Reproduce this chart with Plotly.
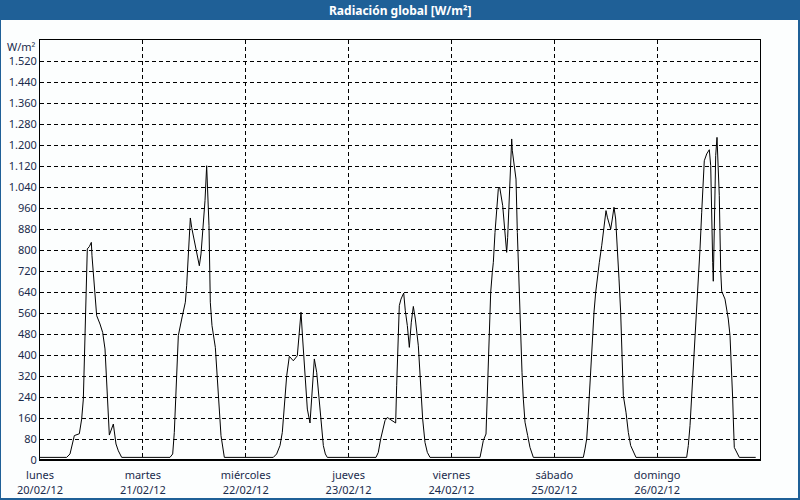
import plotly.graph_objects as go
import pandas as pd

# ---- data -------------------------------------------------------------
day_dates = ["2012-02-20", "2012-02-21", "2012-02-22", "2012-02-23",
             "2012-02-24", "2012-02-25", "2012-02-26"]
day_names = ["lunes", "martes", "miércoles", "jueves", "viernes", "sábado", "domingo"]
day_labels = ["20/02/12", "21/02/12", "22/02/12", "23/02/12",
              "24/02/12", "25/02/12", "26/02/12"]

# hour of day, W/m²
mon_hours = [0.0, 6.22, 7.0, 8.01, 9.18, 9.72, 10.11, 10.5, 10.73, 11.04, 11.51, 11.98,
             12.13, 12.6, 13.22, 14.0, 14.62, 15.17, 15.71, 16.18, 17.11, 17.73, 18.28, 19.06]
mon_values = [10, 10, 23, 93, 100, 156, 232, 461, 594, 804, 813, 829,
              778, 664, 550, 518, 486, 423, 245, 95, 137, 61, 35, 10]

tue_hours = [6.33, 6.96, 7.34, 7.66, 7.89, 8.28, 9.06, 9.91, 10.22, 10.61, 11.08, 11.39,
             12.17, 13.18, 13.57, 14.03, 14.5, 14.89, 15.12, 15.43, 15.74, 16.13, 16.91,
             17.38, 17.84, 18.23, 19.01]
tue_values = [10, 23, 105, 232, 334, 474, 537, 601, 664, 804, 922, 886,
              816, 740, 785, 880, 988, 1121, 1045, 893, 601, 512, 429,
              309, 182, 93, 10]

wed_hours = [6.44, 7.22, 8.0, 8.54, 9.01, 9.56, 10.18, 11.11, 12.04, 12.43, 12.9, 13.29,
             13.83, 14.38, 15.0, 15.47, 16.01, 16.56, 17.1, 17.64, 18.11, 18.58, 19.04]
wed_values = [10, 23, 55, 105, 207, 321, 395, 378, 397, 474, 563, 461,
              309, 194, 141, 251, 385, 334, 245, 131, 55, 23, 10]

thu_hours = [6.4, 6.94, 7.49, 7.96, 8.5, 9.04, 10.06, 10.99, 11.22, 11.53, 11.84, 12.23,
             12.86, 13.24, 13.71, 14.18, 14.64, 15.11, 15.58, 16.28, 16.82, 17.29, 17.83,
             18.38, 19.0]
thu_values = [10, 29, 80, 118, 150, 162, 150, 141, 283, 461, 588, 613,
              636, 569, 512, 429, 525, 585, 537, 435, 283, 156, 67,
              29, 10]

fri_hours = [6.67, 7.06, 7.44, 8.07, 8.38, 8.61, 8.84, 9.16, 9.54, 9.78, 10.17, 10.56,
             10.94, 11.26, 11.49, 11.96, 12.42, 12.89, 13.12, 13.36, 13.67, 13.82, 14.06,
             14.21, 14.6, 15.07, 15.38, 15.69, 15.84, 16.16, 16.47, 16.78, 17.17, 17.79,
             18.33, 19.11]
fri_values = [10, 42, 74, 99, 245, 410, 537, 639, 715, 753, 867, 969,
              1032, 1039, 1020, 969, 880, 791, 848, 956, 1070, 1172, 1223,
              1178, 1134, 1070, 867, 715, 588, 461, 334, 232, 144, 93,
              48, 10]

sat_hours = [6.78, 7.17, 7.56, 7.87, 8.18, 8.49, 8.88, 9.27, 9.66, 10.04, 10.51, 11.06,
             11.6, 12.07, 12.38, 12.77, 13.16, 13.54, 13.93, 14.32, 14.71, 15.1, 15.49,
             15.8, 16.11, 16.73, 17.28, 17.82, 18.44, 19.07]
sat_values = [10, 42, 80, 156, 258, 334, 486, 563, 639, 702, 753, 816,
              893, 950, 925, 905, 880, 918, 963, 918, 816, 690, 563,
              435, 245, 182, 105, 55, 29, 10]

sun_hours = [6.89, 7.27, 7.67, 7.9, 8.21, 8.44, 8.76, 9.0, 9.37, 9.6, 10.0, 10.4,
             10.77, 11.0, 11.56, 12.17, 12.5, 12.73, 12.96, 13.1, 13.34, 13.66, 13.97,
             14.2, 14.5, 14.83, 15.06, 15.83, 16.23, 16.6, 17.0, 17.23, 17.4, 17.63,
             17.77, 18.0, 19.17, 23.0]
sun_values = [10, 55, 131, 194, 283, 359, 461, 537, 613, 690, 804, 944,
              1058, 1140, 1166, 1182, 1121, 880, 753, 681, 855, 1160, 1229,
              1153, 1007, 721, 643, 613, 575, 537, 474, 397, 321, 232,
              156, 48, 10, 10]

y_tick_values = [0, 80, 160, 240, 320, 400, 480, 560, 640, 720, 800, 880, 960,
                 1040, 1120, 1200, 1280, 1360, 1440, 1520]

# ---- build series -----------------------------------------------------
all_hours = [mon_hours, tue_hours, wed_hours, thu_hours, fri_hours, sat_hours, sun_hours]
all_values = [mon_values, tue_values, wed_values, thu_values, fri_values, sat_values, sun_values]

xs, ys = [], []
for d, hrs, vals in zip(day_dates, all_hours, all_values):
    base = pd.Timestamp(d)
    xs += [base + pd.Timedelta(hours=h) for h in hrs]
    ys += vals

BLUE = "#1f6097"
TXT = "#1a2b4c"
FONT = "Noto Sans"

fig = go.Figure()
fig.add_trace(go.Scatter(x=xs, y=ys, mode="lines",
                         line=dict(color="black", width=1), showlegend=False,
                         hoverinfo="skip"))


def px_x(px):
    return (px - 40) / 720


def px_y(py):
    return (460 - py) / 420


shapes = [
    # title bar
    dict(type="rect", xref="paper", yref="paper", x0=px_x(0), x1=px_x(800),
         y0=px_y(20), y1=px_y(0), fillcolor=BLUE, line=dict(width=0), layer="above"),
    # frame
    dict(type="rect", xref="paper", yref="paper", x0=px_x(0), x1=px_x(1),
         y0=px_y(500), y1=px_y(0), fillcolor=BLUE, line=dict(width=0), layer="above"),
    dict(type="rect", xref="paper", yref="paper", x0=px_x(798), x1=px_x(800),
         y0=px_y(500), y1=px_y(0), fillcolor=BLUE, line=dict(width=0), layer="above"),
    dict(type="rect", xref="paper", yref="paper", x0=px_x(0), x1=px_x(800),
         y0=px_y(500), y1=px_y(498), fillcolor=BLUE, line=dict(width=0), layer="above"),
    # thicker bottom axis line
    dict(type="line", xref="paper", yref="paper", x0=0, x1=1, y0=0, y1=0,
         line=dict(color="black", width=2), layer="above"),
]

fig.update_layout(
    width=800, height=500,
    margin=dict(l=40, r=40, t=40, b=40, autoexpand=False),
    paper_bgcolor="#fcfefe", plot_bgcolor="#fcfefe",
    separators=",.",
    font=dict(family=FONT, size=11, color=TXT),
    shapes=shapes,
    annotations=[
        dict(text="<b>Radiación global [W/m²]</b>", xref="paper", yref="paper",
             x=0.5, y=px_y(10), xanchor="center", yanchor="middle", showarrow=False,
             font=dict(family=FONT, size=12, color="white")),
        dict(text="W/m²", xref="paper", yref="paper", x=0, y=1, xanchor="right",
             yanchor="top", xshift=-2, yshift=3, showarrow=False,
             font=dict(family=FONT, size=11, color=TXT)),
    ],
    xaxis=dict(
        type="date",
        range=["2012-02-20", "2012-02-27"],
        tickvals=[pd.Timestamp(d) for d in day_dates],
        ticktext=[f"{n}<br>{l}" for n, l in zip(day_names, day_labels)],
        tickangle=0, automargin=False, ticklabelstandoff=5,
        showgrid=True, gridcolor="black", gridwidth=1, griddash="4px,3px",
        showline=True, linecolor="black", linewidth=1, mirror=True,
        ticks="", zeroline=False,
        tickfont=dict(family=FONT, size=11, color=TXT),
    ),
    yaxis=dict(
        range=[0, 1600],
        tickvals=y_tick_values,
        tickformat=",d",
        separatethousands=True, automargin=False,
        showgrid=True, gridcolor="black", gridwidth=1, griddash="4px,3px",
        showline=True, linecolor="black", linewidth=1, mirror=True,
        ticks="", zeroline=False,
        tickfont=dict(family=FONT, size=11, color=TXT),
    ),
)

fig.write_html("out.html", config={"displayModeBar": False},
               post_script="document.body.style.margin='0';document.body.style.background='#fcfefe';")
